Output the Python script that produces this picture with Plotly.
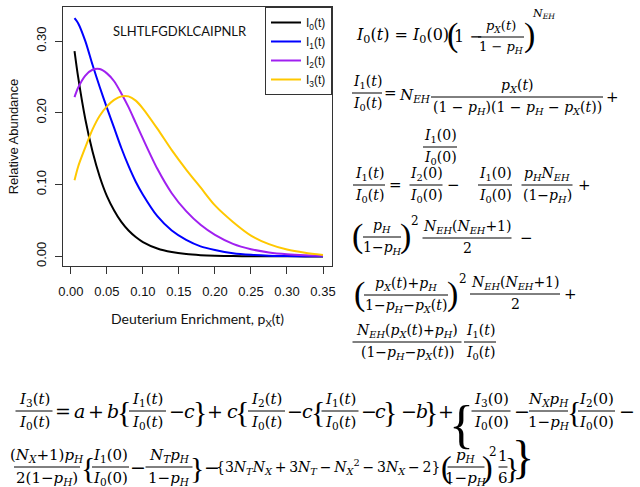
import plotly.graph_objects as go

# ---------------- data ----------------
enrichment = [0.005, 0.01, 0.02, 0.03, 0.04, 0.05, 0.06, 0.07, 0.08, 0.09, 0.10,
              0.12, 0.14, 0.16, 0.18, 0.20, 0.225, 0.25, 0.275, 0.30, 0.325, 0.35]
i0 = [0.286, 0.250, 0.191, 0.146, 0.111, 0.084, 0.064, 0.048, 0.036, 0.027, 0.020,
      0.011, 0.006, 0.0032, 0.0017, 0.0009, 0.0004, 0.0002, 0.0001, 0.0001, 0.0, 0.0]
i1 = [0.332, 0.325, 0.300, 0.267, 0.236, 0.207, 0.179, 0.151, 0.126, 0.104, 0.086,
      0.056, 0.036, 0.023, 0.014, 0.009, 0.0045, 0.0022, 0.001, 0.0005, 0.0002, 0.0001]
i2 = [0.222, 0.235, 0.252, 0.260, 0.261, 0.255, 0.244, 0.227, 0.208, 0.186, 0.164,
      0.122, 0.088, 0.063, 0.044, 0.030, 0.0175, 0.010, 0.0055, 0.003, 0.0017, 0.001]
i3 = [0.106, 0.125, 0.152, 0.177, 0.196, 0.209, 0.218, 0.223, 0.223, 0.217, 0.206,
      0.178, 0.148, 0.121, 0.096, 0.071, 0.048, 0.029, 0.017, 0.0095, 0.005, 0.002]
series_names = ["I<sub>0</sub>(t)", "I<sub>1</sub>(t)", "I<sub>2</sub>(t)", "I<sub>3</sub>(t)"]
series_colors = ["#000000", "#0000FF", "#A020F0", "#FFC800"]
x_ticks = [0.00, 0.05, 0.10, 0.15, 0.20, 0.25, 0.30, 0.35]
y_ticks = [0.00, 0.10, 0.20, 0.30]
peptide = "SLHTLFGDKLCAIPNLR"

# ---------------- figure ----------------
W, H = 640, 487
L, R, T, B = 63, 332, 7, 266
PW, PH = R - L, B - T

fig = go.Figure()
for name, ys, col in zip(series_names, [i0, i1, i2, i3], series_colors):
    fig.add_trace(go.Scatter(x=enrichment, y=ys, mode="lines", name=name,
                             line=dict(color=col, width=2, shape="spline", smoothing=0.8)))

axis_common = dict(showline=True, mirror=True, linecolor="#333", linewidth=1,
                   ticks="outside", ticklen=7, tickcolor="#333", showgrid=False,
                   zeroline=False, automargin=False,
                   tickfont=dict(family="Liberation Sans", size=13, color="#111"))
fig.update_layout(
    width=W, height=H, margin=dict(l=L, r=W - R, t=T, b=H - B, autoexpand=False),
    paper_bgcolor="white", plot_bgcolor="white",
    xaxis=dict(range=[-0.011, 0.3625], tickvals=x_ticks, ticktext=[f"{v:.2f}" for v in x_ticks],
               ticklabelstandoff=6,
               title=dict(text="Deuterium Enrichment, p<sub>X</sub>(t)",
                          font=dict(family="Lato", size=14, color="#111"), standoff=16),
               **axis_common),
    yaxis=dict(range=[-0.0134, 0.3475], tickvals=y_ticks, ticktext=[f"{v:.2f}" for v in y_ticks],
               tickangle=-90, ticklabelstandoff=4,
               title=dict(text="Relative Abundance",
                          font=dict(family="Liberation Sans", size=13, color="#111"), standoff=12),
               **axis_common),
    legend=dict(x=1, y=1, xanchor="right", yanchor="top", bgcolor="white",
                bordercolor="#333", borderwidth=1, itemwidth=30,
                font=dict(family="Liberation Sans", size=12, color="#111"), tracegroupgap=0),
    showlegend=True,
)

fig.add_annotation(x=(180 - L) / PW, y=(B - 31) / PH, xref="paper", yref="paper",
                   text=peptide, showarrow=False, xanchor="center", yanchor="middle",
                   font=dict(family="Lato", size=13, color="#111"))

# ---------------- equations ----------------
def m(s):
    out, i = "", 0
    while i < len(s):
        c = s[i]
        if c in "_^":
            tag = "sub" if c == "_" else "sup"
            if s[i + 1] == "{":
                j = s.index("}", i)
                inner = s[i + 2:j]
                i = j + 1
            else:
                inner = s[i + 1]
                i += 2
            out += f"<{tag}>{m(inner)}</{tag}>"
            continue
        if c.isalpha():
            j = i
            while j < len(s) and s[j].isalpha():
                j += 1
            out += f"<i>{s[i:j]}</i>"
            i = j
            continue
        out += c
        i += 1
    return out

MATH = "DejaVu Serif"
DELIM = "Liberation Serif"

def px2p(x, y):
    return (x - L) / PW, (B - y) / PH

def txt(s, cx, cy, size, family=MATH):
    x, y = px2p(cx, cy)
    fig.add_annotation(x=x, y=y, xref="paper", yref="paper", text=m(s), showarrow=False,
                       xanchor="center", yanchor="middle",
                       font=dict(family=family, size=size, color="black"))

def delim(s, cx, cy, size):
    x, y = px2p(cx, cy)
    fig.add_annotation(x=x, y=y, xref="paper", yref="paper", text=s, showarrow=False,
                       xanchor="center", yanchor="middle",
                       font=dict(family=DELIM, size=size, color="black"))

def frac(num, den, cx, bar, w, size):
    x, y = px2p(cx, bar - 1)
    fig.add_annotation(x=x, y=y, xref="paper", yref="paper", text=m(num), showarrow=False,
                       xanchor="center", yanchor="bottom", borderpad=0,
                       font=dict(family=MATH, size=size, color="black"))
    x, y = px2p(cx, bar + 1)
    fig.add_annotation(x=x, y=y, xref="paper", yref="paper", text=m(den), showarrow=False,
                       xanchor="center", yanchor="top", borderpad=0,
                       font=dict(family=MATH, size=size, color="black"))
    x0, yb = px2p(cx - w / 2, bar)
    x1, _ = px2p(cx + w / 2, bar)
    fig.add_shape(type="line", xref="paper", yref="paper", x0=x0, x1=x1, y0=yb, y1=yb,
                  line=dict(color="black", width=1))

# right column
S, FS = 15, 14
txt("I_0(t) = I_0(0)", 402, 35, 16)
delim("(", 452, 35, 34)
txt("1 −", 468, 36, 16)
frac("p_X(t)", "1 − p_H", 501, 37, 46, 13)
delim(")", 529, 35, 34)
txt("N_{EH}", 543, 14, 11)

frac("I_1(t)", "I_0(t)", 367, 93, 30, FS)
txt("=", 390, 93, S)
txt("N_{EH}", 415, 95, S)
frac("p_X(t)", "(1 − p_H)(1 − p_H − p_X(t))", 517, 97, 172, FS)
txt("+", 612, 97, S)
frac("I_1(0)", "I_0(0)", 440, 147, 34, FS)

frac("I_1(t)", "I_0(t)", 369, 185, 32, FS)
txt("=", 395, 185, S)
frac("I_2(0)", "I_0(0)", 426, 185, 33, FS)
txt("−", 453, 185, S)
frac("I_1(0)", "I_0(0)", 495, 185, 34, FS)
frac("p_HN_{EH}", "(1−p_H)", 547, 185, 51, FS)
txt("+", 584, 185, S)

delim("(", 357, 236, 34)
frac("p_H", "1−p_H", 382, 237, 38, FS)
delim(")", 405, 236, 34)
txt("2", 415, 221, 12)
frac("N_{EH}(N_{EH}+1)", "2", 467, 238, 89, FS)
txt("−", 526, 238, S)

delim("(", 359, 294, 34)
frac("p_X(t)+p_H", "1−p_H−p_X(t)", 406, 295, 84, FS)
delim(")", 452, 294, 34)
txt("2", 463, 279, 12)
frac("N_{EH}(N_{EH}+1)", "2", 515, 294, 90, FS)
txt("+", 570, 294, S)

frac("N_{EH}(p_X(t)+p_H)", "(1−p_H−p_X(t))", 407, 342, 109, FS)
frac("I_1(t)", "I_0(t)", 480, 342, 32, FS)

# bottom lines
S2, FS2, BR = 19, 15, 30
y1 = 411
frac("I_3(t)", "I_0(t)", 34, y1, 37, FS2)
txt("=", 63, y1, S2)
txt("a", 79.5, y1, S2)
txt("+", 96, y1, S2)
txt("b", 112.5, y1, S2)
delim("{", 124, y1, BR)
frac("I_1(t)", "I_0(t)", 147.5, y1, 37, FS2)
txt("−", 177, y1, S2)
txt("c", 189.5, y1, S2)
delim("}", 199.5, y1, BR)
txt("+", 215, y1, S2)
txt("c", 232, y1, S2)
delim("{", 242, y1, BR)
frac("I_2(t)", "I_0(t)", 266.5, y1, 37, FS2)
txt("−", 295, y1, S2)
txt("c", 307, y1, S2)
delim("{", 318, y1, BR)
frac("I_1(t)", "I_0(t)", 340, y1, 37, FS2)
txt("−", 368.5, y1, S2)
txt("c", 380.5, y1, S2)
delim("}", 390, y1, BR)
txt("−", 409, y1, S2)
txt("b", 422, y1, S2)
delim("}", 431, y1, BR)
txt("+", 446, y1, S2)
delim("{", 461, 424, 52)
frac("I_3(0)", "I_0(0)", 491, y1, 39, FS2)
txt("−", 521.5, y1, S2)
frac("N_Xp_H", "1−p_H", 548.5, y1, 39, FS2)
delim("{", 574, y1, BR)
frac("I_2(0)", "I_0(0)", 596.5, y1, 37, FS2)
txt("−", 627, y1, S2)

y2 = 467
frac("(N_X+1)p_H", "2(1−p_H)", 47, y2, 66, FS2)
delim("{", 88, y2, BR)
frac("I_1(0)", "I_0(0)", 110.5, y2, 37, FS2)
txt("−", 138, y2, S2)
frac("N_Tp_H", "1−p_H", 169, y2, 47, FS2)
delim("}", 196.5, y2, BR)
txt("−", 212, y2, S2)
txt("{3N_TN_X\u2009+\u20093N_T\u2009−\u2009N_X^2\u2009−\u20093N_X\u2009−\u20092}", 328, y2, 14)
delim("(", 446, y2, 32)
frac("p_H", "1−p_H", 466, y2, 37, FS2)
delim(")", 487, y2, 32)
txt("2", 493, 452, 12)
frac("1", "6", 503, y2, 9, FS2)
delim("}", 512, y2, BR)
delim("}", 523, 458, 46)

fig.write_html("out.html", config={"displayModeBar": False},
               post_script="document.body.style.margin='0';")
